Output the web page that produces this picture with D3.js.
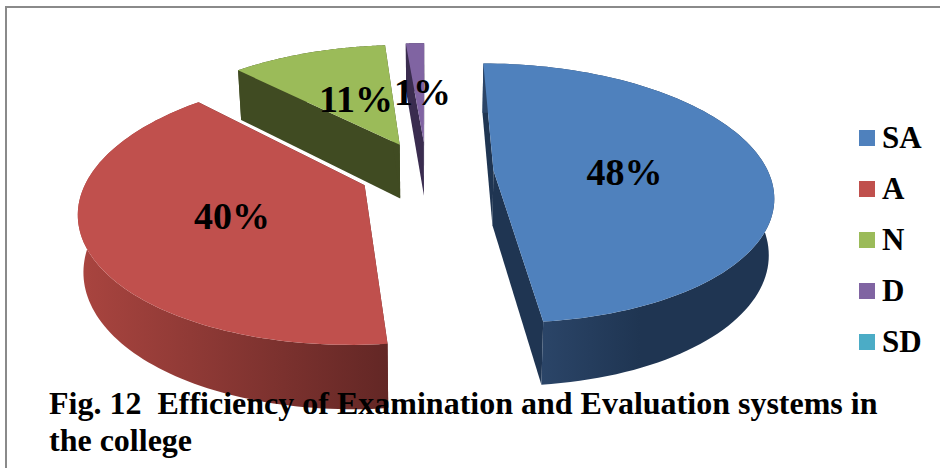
<!DOCTYPE html>
<html><head><meta charset="utf-8">
<script src="https://cdn.jsdelivr.net/npm/d3@7"></script>
<style>html,body{margin:0;padding:0;background:#fff}svg{display:block}text{font-family:"Liberation Serif",serif;font-weight:700;fill:#000;white-space:pre}</style>
</head><body>
<svg id="c" width="940" height="468"></svg>
<script>
const categories = ["SA","A","N","D","SD"];
const values = [48.3,39.4,11.0,1.3,0];
const labels = ["48%","40%","11%","1%",""];
const topColors = ["#4F81BD","#C0504D","#9BBB59","#8064A2","#4BACC6"];
const wallColors = ["#1F3552","#632725","#404B22","#3A2C4F","#1F4F5C"];
const rimLeft = ["#2B4568","#A8443F","#404B22","#3A2C4F","#1F4F5C"];
const rimRight = ["#1F3552","#632725","#404B22","#3A2C4F","#1F4F5C"];
const titleLines = ["Fig. 12  Efficiency of Examination and Evaluation systems in","the college"];

const svg = d3.select("#c");
const W=940,H=468;
svg.append("rect").attr("width",W).attr("height",H).attr("fill","#fff");
svg.append("path").attr("d",`M6,${H}V7H${W}`).attr("fill","none").attr("stroke","#8a8a8a").attr("stroke-width",2);

// projection of the pie plane
const x0=426,y0=170,R=274,q=0.458,k=0.177/275,cx=0.5,cy=4,explode=67;
const proj=(X,Y)=>{const s=1/(1-k*Y);return {x:x0+X*s,y:y0+q*Y*s,s};};
const drop=p=>({x:p.x+(430-p.x)*0.016,y:p.y+17+38*p.s});
const pie=d3.pie().sort(null).value(d=>d).startAngle(0).endAngle(2*Math.PI)(values);
const line=d3.line().x(d=>d.x).y(d=>d.y);
const defs=svg.append("defs");

pie.forEach((d,i)=>{
  if(d.value===0) return;
  const mid=(d.startAngle+d.endAngle)/2;
  const ox=cx+explode*Math.sin(mid), oy=cy-explode*Math.cos(mid);
  const angles=d3.range(0,1.0001,0.01).map(d3.scaleLinear().domain([0,1]).range([d.startAngle,d.endAngle]));
  const rimTop=angles.map(a=>proj(ox+R*Math.sin(a),oy-R*Math.cos(a)));
  const rimBot=rimTop.map(drop);
  const apex=proj(ox,oy), apexB=drop(apex);
  const g=svg.append("g");
  // cut faces
  g.append("path").attr("d",line([apex,rimTop[0],rimBot[0],apexB])+"Z").attr("fill",wallColors[i]);
  g.append("path").attr("d",line([apex,rimTop[rimTop.length-1],rimBot[rimBot.length-1],apexB])+"Z").attr("fill",wallColors[i]);
  // curved wall with horizontal shading
  const id="rim"+i;
  const gr=defs.append("linearGradient").attr("id",id).attr("gradientUnits","userSpaceOnUse")
    .attr("x1",i===1?85:541).attr("x2",i===1?388:640).attr("y1",0).attr("y2",0);
  gr.append("stop").attr("offset",0).attr("stop-color",rimLeft[i]);
  gr.append("stop").attr("offset",1).attr("stop-color",rimRight[i]);
  g.append("path").attr("d",line(rimTop.concat(rimBot.slice().reverse()))+"Z").attr("fill",`url(#${id})`);
  // top face
  g.append("path").attr("d",line([apex].concat(rimTop))+"Z").attr("fill",topColors[i]);
});

// data labels
const labelPos=[[624.5,185],[232,229],[356,112],[422.5,105]];
labels.forEach((t,i)=>{ if(t) svg.append("text").attr("x",labelPos[i][0]).attr("y",labelPos[i][1]).attr("text-anchor","middle").attr("font-size",38).text(t);});

// legend
const ly=d3.scalePoint().domain(categories).range([138,342]);
categories.forEach(c=>{
  const i=categories.indexOf(c);
  svg.append("rect").attr("x",859).attr("y",ly(c)-8).attr("width",16).attr("height",16).attr("fill",topColors[i]);
  svg.append("text").attr("x",882).attr("y",ly(c)+10).attr("font-size",31).text(c);
});

// caption
titleLines.forEach((t,i)=>svg.append("text").attr("x",49).attr("y",414+i*37).attr("font-size",32).text(t));
</script>
</body></html>
